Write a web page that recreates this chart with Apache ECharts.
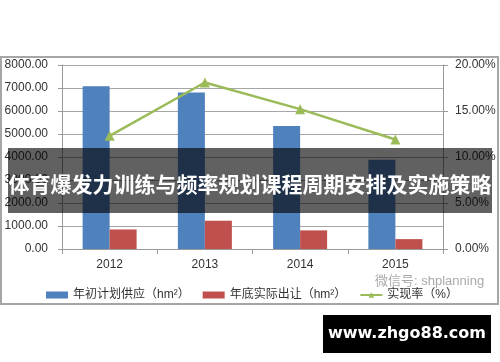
<!DOCTYPE html>
<html><head><meta charset="utf-8">
<script src="https://cdn.jsdelivr.net/npm/echarts@6/dist/echarts.min.js"></script>
<style>html,body{margin:0;padding:0;background:#fff}#c{width:500px;height:362px}</style>
</head><body><div id="c"></div>
<script>
const categories = ['2012', '2013', '2014', '2015'];
const planSupply = [7080, 6800, 5350, 3880];
const actualTransfer = [850, 1230, 810, 430];
const realizeRate = [12.3, 18.1, 15.2, 11.9];
const seriesNames = ['年初计划供应（hm²）', '年底实际出让（hm²）', '实现率（%）'];
const bannerText = '体育爆发力训练与频率规划课程周期安排及实施策略';
const siteText = 'www.zhgo88.com';
const wechatText = '微信号: shplanning';

const chart = echarts.init(document.getElementById('c'), null, {renderer: 'canvas'});
const font = '"Liberation Sans", "Noto Sans CJK SC", sans-serif';
chart.setOption({
  animation: false,
  backgroundColor: '#fff',
  textStyle: {fontFamily: font},
  grid: {left: 62, right: 57, top: 65, bottom: 113, containLabel: false},
  legend: {
    left: 41, top: 284, itemGap: 13, itemWidth: 22, itemHeight: 7,
    textStyle: {fontSize: 12, color: '#333', fontFamily: font},
    data: [
      {name: seriesNames[0], icon: 'rect'},
      {name: seriesNames[1], icon: 'rect'},
      {name: seriesNames[2]}
    ]
  },
  xAxis: {
    type: 'category', data: categories,
    axisLine: {lineStyle: {color: '#999', width: 1}},
    axisTick: {show: true, length: 5, lineStyle: {color: '#999'}},
    axisLabel: {color: '#333', fontSize: 12, margin: 10}
  },
  yAxis: [
    {type: 'value', min: 0, max: 8000, interval: 1000,
     axisLine: {show: true, lineStyle: {color: '#999'}},
     axisTick: {show: true, length: 4, lineStyle: {color: '#999'}},
     axisLabel: {color: '#333', fontSize: 12, margin: 14, formatter: v => v.toFixed(2)},
     splitLine: {lineStyle: {color: '#a6a6a6', width: 1}}},
    {type: 'value', min: 0, max: 20, interval: 5, position: 'right',
     axisLine: {show: true, lineStyle: {color: '#999'}},
     axisTick: {show: true, length: 5, lineStyle: {color: '#999'}},
     axisLabel: {color: '#333', fontSize: 12, margin: 12, formatter: v => v.toFixed(2) + '%'},
     splitLine: {show: false}}
  ],
  series: [
    {name: seriesNames[0], type: 'bar', data: planSupply, barWidth: 27, barGap: '0%',
     itemStyle: {color: '#4f81bd'}},
    {name: seriesNames[1], type: 'bar', data: actualTransfer, barWidth: 27,
     itemStyle: {color: '#c0504d'}},
    {name: seriesNames[2], type: 'line', yAxisIndex: 1, data: realizeRate,
     symbol: 'triangle', symbolSize: 10,
     lineStyle: {color: '#9bbb59', width: 2.5},
     itemStyle: {color: '#9bbb59'}}
  ],
  graphic: [
    {type: 'rect', z: 0, silent: true, shape: {x: 1, y: 57, width: 497, height: 247},
     style: {fill: 'none', stroke: '#a6a6a6', lineWidth: 2}},
    {type: 'text', z: 50, left: 375, top: 275,
     style: {text: wechatText, fill: 'rgba(140,140,140,0.75)', fontSize: 13, fontFamily: font}},
    {type: 'rect', z: 100, shape: {x: 8, y: 148, width: 484, height: 65},
     style: {fill: 'rgba(0,0,0,0.62)'}},
    {type: 'text', z: 101, x: 250, y: 184,
     style: {text: bannerText, fill: '#fff', fontSize: 21, fontWeight: 'bold',
             fontFamily: '"Noto Sans CJK SC", sans-serif', align: 'center', verticalAlign: 'middle'}},
    {type: 'rect', z: 100, shape: {x: 323, y: 315, width: 168, height: 38},
     style: {fill: '#000'}},
    {type: 'text', z: 101, x: 407, y: 334,
     style: {text: siteText, fill: '#fff', fontSize: 16, fontWeight: 'bold',
             fontFamily: '"DejaVu Sans", sans-serif', align: 'center', verticalAlign: 'middle'}}
  ]
});
</script></body></html>
